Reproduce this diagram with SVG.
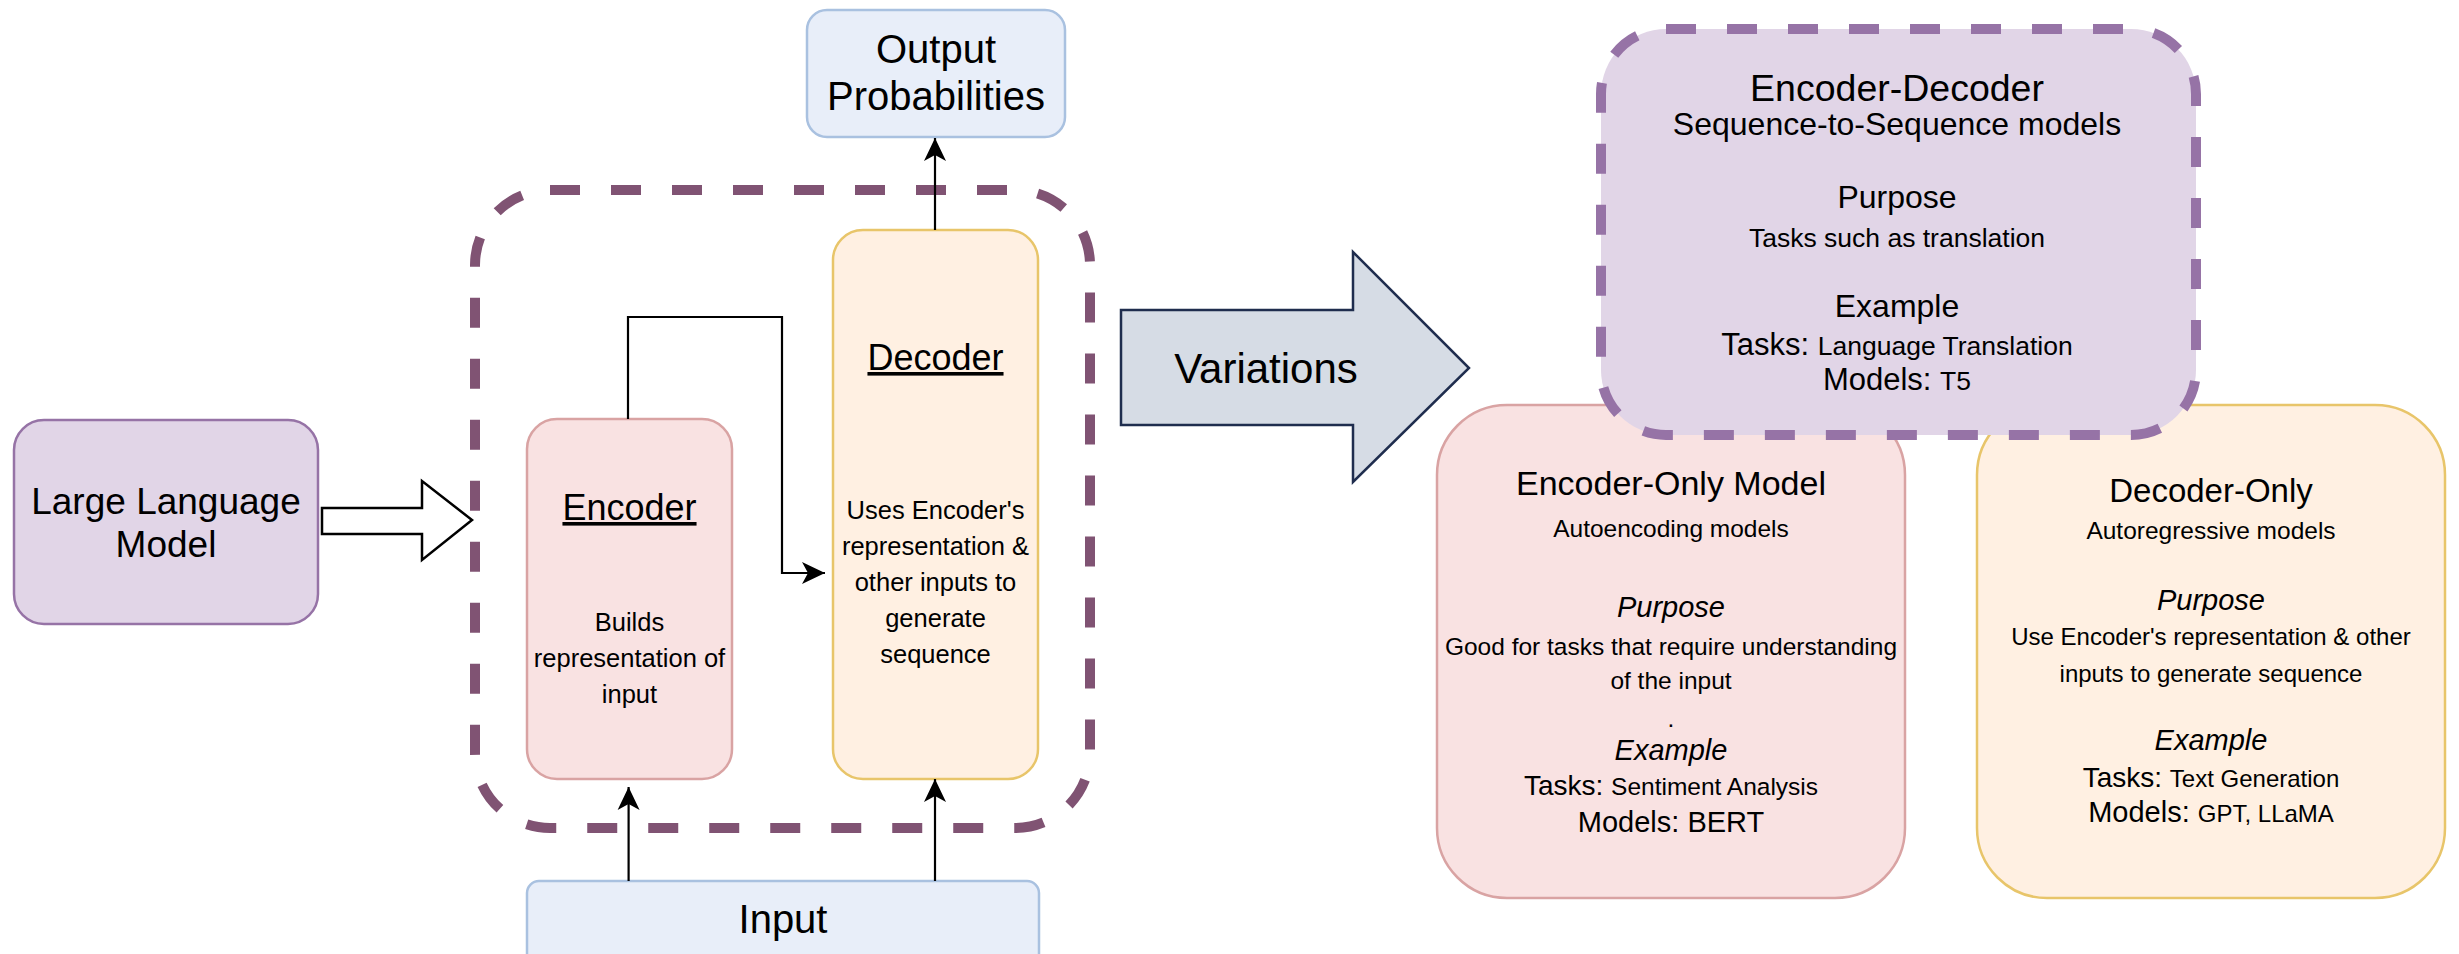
<svg xmlns="http://www.w3.org/2000/svg" width="2459" height="954" viewBox="0 0 2459 954">
<style>
text{font-family:"Liberation Sans",Arial,Helvetica,sans-serif;fill:#000;text-anchor:middle}
.blue{fill:#e8eef9;stroke:#a9c1e0;stroke-width:2.5}
.pink{fill:#f9e2e2;stroke:#d9a3a3;stroke-width:2.5}
.orange{fill:#fff0e2;stroke:#e8c56a;stroke-width:2.5}
.purple{fill:#e1d5e7;stroke:#9673a6;stroke-width:2.5}
.conn{fill:none;stroke:#000;stroke-width:2.2}
.it{font-style:italic}
</style>
<defs>
<marker id="ah" viewBox="-24 -12 25 24" refX="0" refY="0" markerWidth="25" markerHeight="24" orient="auto" markerUnits="userSpaceOnUse">
<path d="M0,0 L-23,-11 L-17,0 L-23,11 Z" fill="#000"/>
</marker>
</defs>

<g id="container">
<rect x="475" y="190" width="615" height="638" rx="75" fill="none" stroke="#805373" stroke-width="10" stroke-dasharray="30 31"/>
</g>

<g id="llm">
<rect x="14" y="420" width="304" height="204" rx="30" class="purple"/>
<text x="166" y="514" font-size="37">Large Language</text>
<text x="166" y="557" font-size="37">Model</text>
</g>

<g id="output">
<rect x="807" y="10" width="258" height="127" rx="20" class="blue"/>
<text x="936" y="63" font-size="40">Output</text>
<text x="936" y="110" font-size="40">Probabilities</text>
</g>

<g id="encoder">
<rect x="527" y="419" width="205" height="360" rx="30" class="pink"/>
<text x="629.5" y="520" font-size="36" text-decoration="underline">Encoder</text>
<text x="629.5" y="631" font-size="25.5">Builds</text>
<text x="629.5" y="667" font-size="25.5">representation of</text>
<text x="629.5" y="703" font-size="25.5">input</text>
</g>

<g id="decoder">
<rect x="833" y="230" width="205" height="549" rx="30" class="orange"/>
<text x="935.5" y="370" font-size="36" text-decoration="underline">Decoder</text>
<text x="935.5" y="519" font-size="25.5">Uses Encoder's</text>
<text x="935.5" y="555" font-size="25.5">representation &amp;</text>
<text x="935.5" y="591" font-size="25.5">other inputs to</text>
<text x="935.5" y="627" font-size="25.5">generate</text>
<text x="935.5" y="663" font-size="25.5">sequence</text>
</g>

<g id="input">
<rect x="527" y="881" width="512" height="110" rx="12" class="blue"/>
<text x="783" y="933" font-size="40">Input</text>
</g>

<g id="connectors">
<polygon points="322,508 422,508 422,481 472,520 422,560 422,534 322,534" fill="#fff" stroke="#000" stroke-width="2.5" stroke-linejoin="miter"/>
<path class="conn" d="M628,419 V317 H782 V573 H825" marker-end="url(#ah)"/>
<path class="conn" d="M628.6,881 V787" marker-end="url(#ah)"/>
<path class="conn" d="M935,881 V779" marker-end="url(#ah)"/>
<path class="conn" d="M935,230 V138" marker-end="url(#ah)"/>
</g>

<g id="variations">
<polygon points="1121,310 1353,310 1353,252 1469,368 1353,482 1353,425 1121,425" fill="#d6dce5" stroke="#1f2d4e" stroke-width="2.5"/>
<text x="1266" y="383" font-size="42">Variations</text>
</g>

<g id="encoder-only">
<rect x="1437" y="405" width="468" height="493" rx="70" class="pink"/>
<text x="1671" y="495" font-size="34">Encoder-Only Model</text>
<text x="1671" y="537" font-size="24.5">Autoencoding models</text>
<text x="1671" y="617" font-size="29" class="it">Purpose</text>
<text x="1671" y="655" font-size="24.5">Good for tasks that require understanding</text>
<text x="1671" y="689" font-size="24.5">of the input</text>
<text x="1671" y="727" font-size="24.5">.</text>
<text x="1671" y="760" font-size="29" class="it">Example</text>
<text x="1671" y="795"><tspan font-size="28">Tasks: </tspan><tspan font-size="24.5">Sentiment Analysis</tspan></text>
<text x="1671" y="832" font-size="29">Models: BERT</text>
</g>

<g id="decoder-only">
<rect x="1977" y="405" width="468" height="493" rx="70" class="orange"/>
<text x="2211" y="502" font-size="33">Decoder-Only</text>
<text x="2211" y="539" font-size="24.5">Autoregressive models</text>
<text x="2211" y="610" font-size="29" class="it">Purpose</text>
<text x="2211" y="645" font-size="24">Use Encoder's representation &amp; other</text>
<text x="2211" y="682" font-size="24">inputs to generate sequence</text>
<text x="2211" y="750" font-size="29" class="it">Example</text>
<text x="2211" y="787"><tspan font-size="28">Tasks: </tspan><tspan font-size="24">Text Generation</tspan></text>
<text x="2211" y="822"><tspan font-size="29">Models: </tspan><tspan font-size="24">GPT, LLaMA</tspan></text>
</g>

<g id="encoder-decoder">
<rect x="1601" y="29" width="595" height="406" rx="65" fill="#e1d5e7" stroke="#9673a6" stroke-width="10" stroke-dasharray="30 31"/>
<text x="1897" y="101" font-size="37.5">Encoder-Decoder</text>
<text x="1897" y="135" font-size="32">Sequence-to-Sequence models</text>
<text x="1897" y="208" font-size="32">Purpose</text>
<text x="1897" y="247" font-size="26.5">Tasks such as translation</text>
<text x="1897" y="317" font-size="32">Example</text>
<text x="1897" y="355"><tspan font-size="31">Tasks: </tspan><tspan font-size="26.5">Language Translation</tspan></text>
<text x="1897" y="390"><tspan font-size="31">Models: </tspan><tspan font-size="26.5">T5</tspan></text>
</g>
</svg>
